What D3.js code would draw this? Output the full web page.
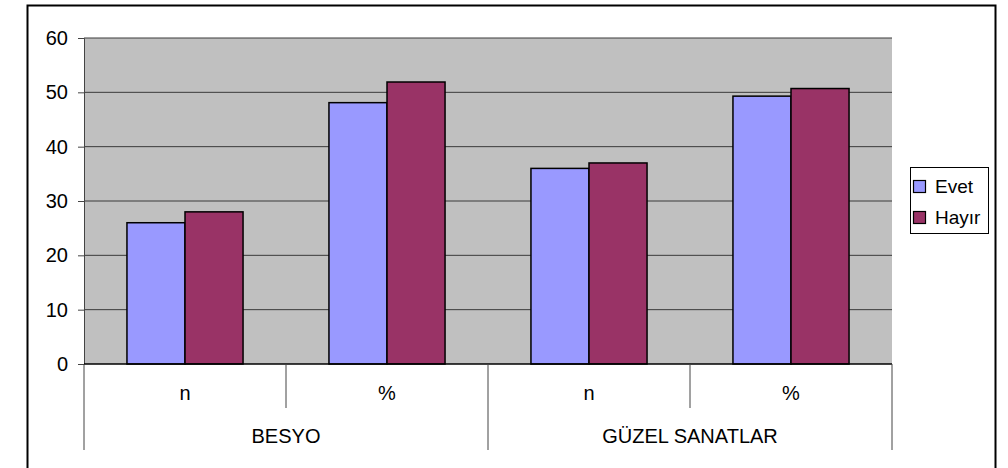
<!DOCTYPE html>
<html><head><meta charset="utf-8">
<script src="https://cdn.jsdelivr.net/npm/d3@7"></script>
<style>body{margin:0;background:#fff}svg{display:block;font-family:"Liberation Sans",Arial,sans-serif}</style>
</head><body>
<svg id="c" width="1008" height="468"></svg>
<script>
const groups = ["BESYO", "GÜZEL SANATLAR"];
const subs = ["n", "%"];
const series = ["Evet", "Hayır"];
const evet = [26, 48.1, 36, 49.3];
const hayir = [28, 51.9, 37, 50.7];
const yTicks = [0, 10, 20, 30, 40, 50, 60];
const colors = ["#9999ff", "#993366"];

const svg = d3.select("#c");
const L = 84, R = 892, T = 38, B = 364;
const FS = 20;

svg.append("rect").attr("x", 27.5).attr("y", 5.5).attr("width", 968).attr("height", 470)
  .attr("fill", "#fff").attr("stroke", "#000").attr("stroke-width", 2);

const cats = [];
groups.forEach(g => subs.forEach(s => cats.push(g + "|" + s)));

const x = d3.scaleBand().domain(cats).range([L, R]).paddingInner(0).paddingOuter(0);
const xs = d3.scaleBand().domain(series).range([0, x.bandwidth()]).paddingInner(0).paddingOuter(0.74);
const y = d3.scaleLinear().domain([0, 60]).range([B, T]);

svg.append("rect").attr("x", L).attr("y", T).attr("width", R - L).attr("height", B - T).attr("fill", "#c0c0c0");

svg.append("g").selectAll("line").data(yTicks.filter(d => d > 0)).join("line")
  .attr("x1", L).attr("x2", R).attr("y1", d => y(d)).attr("y2", d => y(d))
  .attr("stroke", "#3a3a3a").attr("stroke-width", 1);

const data = [];
cats.forEach((c, i) => { data.push({c, s: "Evet", v: evet[i]}); data.push({c, s: "Hayır", v: hayir[i]}); });
svg.append("g").selectAll("rect").data(data).join("rect")
  .attr("x", d => x(d.c) + xs(d.s)).attr("width", xs.bandwidth())
  .attr("y", d => y(d.v)).attr("height", d => B - y(d.v))
  .attr("fill", d => colors[series.indexOf(d.s)]).attr("stroke", "#000").attr("stroke-width", 1.5);

// y axis
const ya = svg.append("g").attr("transform", `translate(${L},0)`)
  .call(d3.axisLeft(y).tickValues(yTicks).tickSize(6).tickPadding(10));
ya.attr("font-size", FS).attr("font-family", "Liberation Sans, Arial, sans-serif");
ya.select(".domain").attr("stroke", "#444");
ya.selectAll(".tick line").attr("stroke", "#444");
ya.selectAll("text").attr("fill", "#000");

// x axis baseline
svg.append("line").attr("x1", L).attr("x2", R).attr("y1", B).attr("y2", B).attr("stroke", "#000").attr("stroke-width", 1.5);

// sub dividers
const subDiv = cats.map((c, i) => ({x: x(c), long: i % 2 === 0})).concat([{x: R, long: true}]);
svg.append("g").selectAll("line").data(subDiv).join("line")
  .attr("x1", d => d.x).attr("x2", d => d.x).attr("y1", B).attr("y2", d => d.long ? 450 : 408)
  .attr("stroke", "#444").attr("stroke-width", 1);

svg.append("g").selectAll("text").data(cats).join("text")
  .attr("x", d => x(d) + x.bandwidth() / 2).attr("y", 400).attr("text-anchor", "middle")
  .attr("font-size", FS).text(d => d.split("|")[1]);

svg.append("g").selectAll("text").data(groups).join("text")
  .attr("x", g => (x(g + "|n") + x(g + "|%") + x.bandwidth()) / 2).attr("y", 443).attr("text-anchor", "middle")
  .attr("font-size", FS).text(d => d);

// legend
const lg = svg.append("g");
lg.append("rect").attr("x", 910.5).attr("y", 167.5).attr("width", 78).attr("height", 66).attr("fill", "#fff").attr("stroke", "#000");
series.forEach((s, i) => {
  lg.append("rect").attr("x", 913.5).attr("y", 180.5 + i * 31).attr("width", 12).attr("height", 12)
    .attr("fill", colors[i]).attr("stroke", "#000").attr("stroke-width", 1.2);
  lg.append("text").attr("x", 935).attr("y", 193 + i * 31).attr("font-size", 19).text(s);
});
</script>
</body></html>
